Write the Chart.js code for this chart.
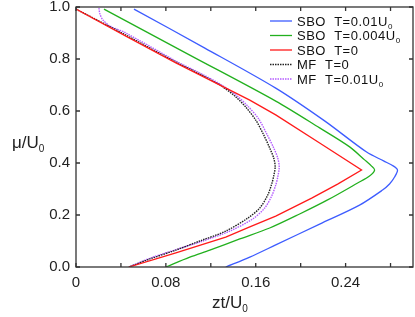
<!DOCTYPE html>
<html lang="en">
<head>
<meta charset="UTF-8">
<title>mu/U0 vs zt/U0</title>
<script src="https://cdn.jsdelivr.net/npm/chart.js"></script>
<style>
  body { margin: 0; background: #fff; }
  #wrap { width: 415px; height: 317px; }
</style>
</head>
<body>
<div id="wrap"><canvas id="chart" width="415" height="317"></canvas></div>
<script>
// values: zt/U0 (horizontal) against mu/U0 (vertical)
const xTickStep = 0.04;
const xLabelStep = 0.08;
const yTickStep = 0.2;

const seriesLabels = ['SBO  T=0.01U₀', 'SBO  T=0.004U₀', 'SBO  T=0', 'MF  T=0', 'MF  T=0.01U₀'];

const sboT001Zt = [0.0516, 0.1147, 0.1778, 0.2213, 0.2587, 0.2738, 0.2827, 0.2862, 0.2836, 0.2791, 0.2729, 0.2524, 0.2169, 0.1778, 0.1547, 0.1333];
const sboT001Mu = [0.992, 0.842, 0.688, 0.562, 0.442, 0.408, 0.388, 0.373, 0.346, 0.319, 0.296, 0.238, 0.165, 0.085, 0.038, 0];

const sboT0004Zt = [0.0249, 0.1013, 0.1778, 0.2169, 0.2436, 0.2569, 0.2631, 0.2658, 0.2613, 0.2507, 0.2240, 0.1991, 0.1724, 0.1458, 0.1191, 0.1013, 0.0800];
const sboT0004Mu = [0.992, 0.815, 0.638, 0.535, 0.462, 0.412, 0.388, 0.373, 0.350, 0.323, 0.258, 0.204, 0.150, 0.108, 0.065, 0.038, 0];

const sboT0Zt = [0, 0.0444, 0.0889, 0.1547, 0.1778, 0.2169, 0.2542, 0.2329, 0.2098, 0.1778, 0.1547, 0.1333, 0.0889, 0.0471];
const sboT0Mu = [0.992, 0.888, 0.785, 0.642, 0.585, 0.477, 0.373, 0.319, 0.265, 0.196, 0.154, 0.115, 0.054, 0];

const mfT0Zt = [0, 0.0444, 0.0889, 0.1102, 0.1280, 0.1413, 0.1511, 0.1600, 0.1671, 0.1724, 0.1760, 0.1773, 0.1760, 0.1742, 0.1707, 0.1636, 0.1529, 0.1333, 0.1102, 0.0889, 0.0658, 0.0471];
const mfT0Mu = [0.992, 0.892, 0.788, 0.742, 0.700, 0.658, 0.615, 0.565, 0.508, 0.458, 0.419, 0.385, 0.350, 0.319, 0.277, 0.227, 0.188, 0.138, 0.100, 0.065, 0.031, 0];

const mfT001Zt = [0.0204, 0.0213, 0.0240, 0.0302, 0.0444, 0.0889, 0.1102, 0.1280, 0.1422, 0.1529, 0.1627, 0.1698, 0.1760, 0.1796, 0.1809, 0.1796, 0.1778, 0.1742, 0.1680, 0.1573, 0.1369, 0.1129, 0.0907, 0.0667, 0.0471];
const mfT001Mu = [0.996, 0.973, 0.950, 0.927, 0.900, 0.792, 0.746, 0.704, 0.662, 0.619, 0.569, 0.512, 0.458, 0.419, 0.385, 0.346, 0.315, 0.273, 0.227, 0.185, 0.138, 0.100, 0.069, 0.035, 0];

const FONT = '"Liberation Sans", Arial, sans-serif';

function pts(xs, ys) {
    return xs.map((v, i) => ({ x: v, y: ys[i] }));
}

// text with "₀" drawn as a small lowered 0
function drawSub(ctx, text, x, y, size) {
    const parts = text.split('₀');
    parts.forEach((p, i) => {
        ctx.font = size + 'px ' + FONT;
        ctx.fillText(p, x, y);
        x += ctx.measureText(p).width;
        if (i < parts.length - 1) {
            ctx.font = Math.round(size * 0.6) + 'px ' + FONT;
            ctx.fillText('0', x, y + size * 0.22);
            x += ctx.measureText('0').width;
        }
    });
}

const framePlugin = {
    id: 'frame',
    afterDatasetsDraw(chart) {
        const { ctx, chartArea: a, scales: { x, y } } = chart;
        ctx.save();
        ctx.strokeStyle = '#333';
        ctx.lineWidth = 1.3;
        ctx.strokeRect(a.left, a.top, a.right - a.left, a.bottom - a.top);
        ctx.beginPath();
        x.ticks.forEach(t => {
            const px = x.getPixelForValue(t.value);
            ctx.moveTo(px, a.bottom); ctx.lineTo(px, a.bottom - 4);
            ctx.moveTo(px, a.top); ctx.lineTo(px, a.top + 4);
        });
        y.ticks.forEach(t => {
            const py = y.getPixelForValue(t.value);
            ctx.moveTo(a.left, py); ctx.lineTo(a.left + 4, py);
            ctx.moveTo(a.right, py); ctx.lineTo(a.right - 4, py);
        });
        ctx.stroke();

        // axis titles
        ctx.fillStyle = '#222';
        ctx.textBaseline = 'alphabetic';
        ctx.textAlign = 'left';
        drawSub(ctx, 'zt/U₀', 212, 308, 17);
        drawSub(ctx, 'μ/U₀', 12, 148, 17);

        // legend
        ctx.letterSpacing = '0.5px';
        chart.data.datasets.forEach((ds, i) => {
            const cy = 21 + i * 14.5;
            ctx.strokeStyle = ds.borderColor;
            ctx.lineWidth = ds.borderWidth;
            ctx.setLineDash(ds.borderDash || []);
            ctx.beginPath();
            ctx.moveTo(270, cy);
            ctx.lineTo(292, cy);
            ctx.stroke();
            ctx.setLineDash([]);
            ctx.fillStyle = '#111';
            drawSub(ctx, ds.label, 297, cy + 4.7, 13);
        });
        ctx.restore();
    }
};

new Chart(document.getElementById('chart'), {
    type: 'scatter',
    data: {
        datasets: [
            { label: seriesLabels[0], data: pts(sboT001Zt, sboT001Mu), borderColor: '#3d5cff', borderWidth: 1.3, tension: 0.3 },
            { label: seriesLabels[1], data: pts(sboT0004Zt, sboT0004Mu), borderColor: '#22b01e', borderWidth: 1.3, tension: 0.3 },
            { label: seriesLabels[2], data: pts(sboT0Zt, sboT0Mu), borderColor: '#ff1a1a', borderWidth: 1.3, tension: 0 },
            { label: seriesLabels[3], data: pts(mfT0Zt, mfT0Mu), borderColor: '#222', borderWidth: 1.4, borderDash: [1.5, 1], tension: 0.3 },
            { label: seriesLabels[4], data: pts(mfT001Zt, mfT001Mu), borderColor: '#b45cff', borderWidth: 1.4, borderDash: [1.5, 1], tension: 0.3 }
        ].map(d => Object.assign(d, { showLine: true, pointRadius: 0, fill: false }))
    },
    options: {
        responsive: false,
        animation: false,
        layout: { padding: { top: 7, right: 2, left: 0, bottom: 0 } },
        plugins: { legend: { display: false }, tooltip: { enabled: false } },
        scales: {
            x: {
                type: 'linear',
                min: 0,
                max: 0.3,
                grid: { display: false, drawTicks: false },
                border: { display: false },
                afterFit: s => { s.height = 50; s.paddingLeft = 0; s.paddingRight = 0; },
                ticks: {
                    stepSize: xTickStep,
                    includeBounds: false,
                    padding: 7,
                    color: '#222',
                    font: { family: FONT, size: 15 },
                    maxRotation: 0,
                    autoSkip: false,
                    callback: v => {
                        const r = v / xLabelStep;
                        if (Math.abs(r - Math.round(r)) > 1e-6) return '';
                        return v === 0 ? '0' : v.toFixed(2);
                    }
                }
            },
            y: {
                type: 'linear',
                min: 0,
                max: 1,
                grid: { display: false, drawTicks: false },
                border: { display: false },
                afterFit: s => { s.width = 76; s.paddingTop = 0; s.paddingBottom = 0; },
                ticks: {
                    stepSize: yTickStep,
                    padding: 6,
                    color: '#222',
                    font: { family: FONT, size: 15 },
                    callback: v => v.toFixed(1)
                }
            }
        }
    },
    plugins: [framePlugin]
});
</script>
</body>
</html>
